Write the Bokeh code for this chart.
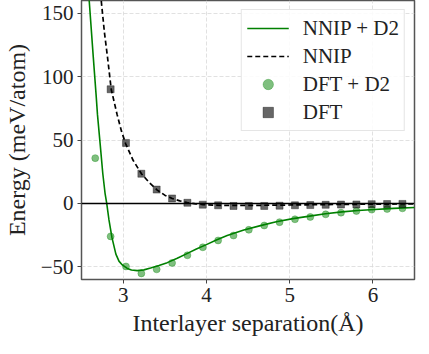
from bokeh.plotting import figure
from bokeh.models import Span, Legend, LegendItem, FixedTicker, Range1d
from bokeh.embed import file_html
from bokeh.resources import INLINE

# ---- data ----
nnip_d2_x = [2.585, 2.594, 2.642, 2.675, 2.692, 2.724, 2.756, 2.783, 2.803, 2.83, 2.866, 2.913,
             2.95, 2.99, 3.05, 3.1, 3.17, 3.25, 3.33, 3.43, 3.53, 3.65, 3.76, 3.88, 4.0,
             4.12, 4.25, 4.45, 4.65, 4.84, 5.04, 5.24, 5.43, 5.63, 5.82, 6.02, 6.25, 6.5]
nnip_d2_y = [166, 158.6, 115, 86, 70, 47, 23.4, 8, 0, -13, -27, -40,
             -45.5, -48.5, -51.3, -52.5, -53, -52.4, -51, -49, -46.7, -43.3, -39.8, -36, -32.5,
             -28.8, -25.3, -21, -17.5, -14.5, -12, -10, -8.2, -6.7, -5.6, -4.8, -3.9, -3.2]

nnip_x = [2.733, 2.739, 2.775, 2.812, 2.857, 2.928, 2.98, 3.031, 3.12, 3.22, 3.32, 3.41,
          3.5, 3.59, 3.68, 3.77, 3.87, 3.96, 4.1, 4.3, 4.5, 4.8, 5.2, 5.6, 6.0, 6.5]
nnip_y = [166, 158.6, 135, 115.6, 90, 70, 57, 47, 34, 23.4, 16, 10.5,
          6.5, 3.9, 2, 0.6, -0.3, -0.9, -1.4, -1.6, -1.6, -1.4, -1.1, -0.8, -0.6, -0.4]

dft_d2_x = [2.665, 2.85, 3.034, 3.219, 3.403, 3.588, 3.772, 3.957, 4.141, 4.326, 4.51,
            4.695, 4.879, 5.064, 5.248, 5.433, 5.617, 5.802, 5.986, 6.171, 6.355]
dft_d2_y = [35.7, -26, -49.7, -55.2, -52, -46.9, -40.9, -34.6, -29.2, -25.3, -20.8,
            -17.4, -14.8, -12.5, -10.7, -8.6, -7.3, -6.0, -4.9, -4.4, -3.9]

dft_x = [2.85, 3.034, 3.219, 3.403, 3.588, 3.772, 3.957, 4.141, 4.326, 4.51,
         4.695, 4.879, 5.064, 5.248, 5.433, 5.617, 5.802, 5.986, 6.171, 6.355]
dft_y = [90, 47.7, 23.4, 10.9, 3.9, 0.5, -1.0, -1.5, -2.0, -2.0,
         -2.0, -1.8, -1.5, -1.3, -1.1, -0.9, -0.8, -0.6, -0.5, -0.4]

x_ticks = [3, 4, 5, 6]
y_ticks = [-50, 0, 50, 100, 150]
y_tick_labels = {-50: "\u221250", 0: "0", 50: "50", 100: "100", 150: "150"}

FONT = "Liberation Serif"

p = figure(width=421, height=345, output_backend="svg", toolbar_location=None,
           x_range=Range1d(2.5, 6.5), y_range=Range1d(-60, 160),
           min_border_left=75, min_border_right=7, min_border_top=0, min_border_bottom=66)

p.background_fill_color = "white"
p.border_fill_color = "white"
p.outline_line_color = "#555555"
p.outline_line_width = 1.5

# grid
for g in (p.xgrid, p.ygrid):
    g.grid_line_color = "#d9d9d9"
    g.grid_line_dash = "4 2"
    g.grid_line_width = 0.8

p.xaxis.ticker = FixedTicker(ticks=x_ticks)
p.yaxis.ticker = FixedTicker(ticks=y_ticks)
p.yaxis.major_label_overrides = y_tick_labels

for ax in (p.xaxis, p.yaxis):
    ax.axis_line_color = None
    ax.major_tick_line_color = "#444444"
    ax.major_tick_out = 4
    ax.major_tick_in = 0
    ax.minor_tick_line_color = None
    ax.major_label_text_font = FONT
    ax.major_label_text_font_size = "21px"
    ax.major_label_text_color = "#222222"
    ax.axis_label_text_font = FONT
    ax.axis_label_text_font_size = "24px"
    ax.axis_label_text_font_style = "normal"
    ax.axis_label_text_color = "#222222"

p.xaxis.axis_label = "Interlayer separation(\u00c5)"
p.yaxis.axis_label = "Energy (meV/atom)"
p.xaxis.major_label_standoff = 4
p.yaxis.major_label_standoff = 4
p.xaxis.axis_label_standoff = 5
p.yaxis.axis_label_standoff = 8

p.add_layout(Span(location=0, dimension="width", line_color="black", line_width=1.5))

r1 = p.line(nnip_d2_x, nnip_d2_y, line_color="green", line_width=1.6)
r2 = p.line(nnip_x, nnip_y, line_color="black", line_width=1.7, line_dash="5 3")
r3 = p.scatter(dft_d2_x, dft_d2_y, marker="circle", size=7, fill_color="green", fill_alpha=0.5,
               line_color="green", line_alpha=0.3)
r4 = p.scatter(dft_x, dft_y, marker="square", size=7, fill_color="black", fill_alpha=0.6,
               line_color="black", line_alpha=0.35)

legend = Legend(items=[
    LegendItem(label="NNIP + D2", renderers=[r1]),
    LegendItem(label="NNIP", renderers=[r2]),
    LegendItem(label="DFT + D2", renderers=[r3]),
    LegendItem(label="DFT", renderers=[r4]),
], location="top_right")
legend.label_text_font = FONT
legend.label_text_font_size = "21px"
legend.label_text_color = "#222222"
legend.glyph_width = 42
legend.glyph_height = 26
legend.label_height = 26
legend.label_standoff = 14
legend.spacing = 2
legend.padding = 5
legend.margin = 9
legend.border_line_color = "#cccccc"
legend.border_line_width = 1
legend.background_fill_alpha = 0.85
p.add_layout(legend)

open("out.html", "w").write(file_html(p, INLINE))
